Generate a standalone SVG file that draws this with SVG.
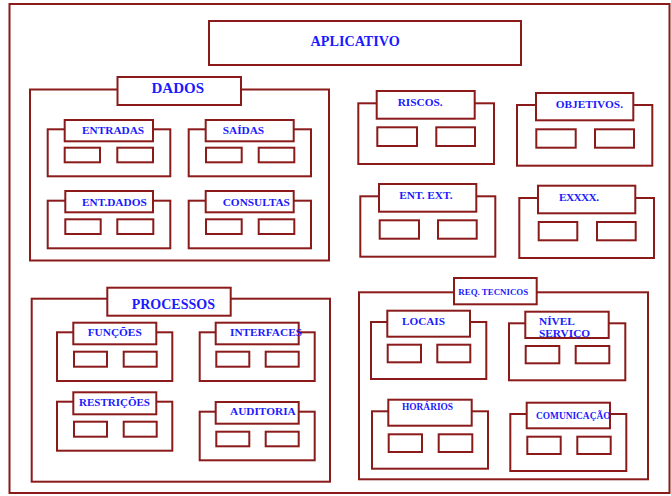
<svg xmlns="http://www.w3.org/2000/svg" width="671" height="496" viewBox="0 0 671 496">
<style>
rect{fill:#fff;stroke:#8b1a1a;stroke-width:2}
text{font-family:"Liberation Serif","Times New Roman",serif;font-weight:bold;fill:#1a1aff;font-size:11.3px}
</style>
<rect x="9.5" y="4" width="660" height="489"/>
<g id="aplicativo">
<rect x="209" y="21" width="312" height="44"/>
<text x="310.5" y="46" style="font-size:14.2px">APLICATIVO</text>
</g>
<g id="dados">
<rect x="30" y="89.5" width="299" height="171"/>
<rect x="117.5" y="77" width="123.5" height="28"/>
<text x="151.5" y="92.5" style="font-size:15px">DADOS</text>
</g>
<g id="entradas">
<rect x="47.7" y="129.3" width="122.6" height="47"/>
<rect x="64.7" y="120" width="88.3" height="21.3"/>
<text x="82" y="133.5">ENTRADAS</text>
<rect x="64.7" y="147.7" width="35.3" height="14.6"/>
<rect x="117.3" y="147.7" width="35.7" height="14.6"/>
</g>
<g id="saidas">
<rect x="188.7" y="129.3" width="122.3" height="47"/>
<rect x="205.7" y="120" width="88" height="21.3"/>
<text x="222.7" y="133.5">SAÍDAS</text>
<rect x="206" y="147.7" width="35.7" height="14.6"/>
<rect x="258.7" y="147.7" width="35.6" height="14.6"/>
</g>
<g id="entdados">
<rect x="47.7" y="200.7" width="122.6" height="47.6"/>
<rect x="65.3" y="191" width="87.7" height="21.3"/>
<text x="82" y="205.5">ENT.DADOS</text>
<rect x="65.3" y="219.3" width="35.4" height="14.7"/>
<rect x="117.3" y="219.3" width="36" height="14.7"/>
</g>
<g id="consultas">
<rect x="188.7" y="200.7" width="122.3" height="47.6"/>
<rect x="205.7" y="191" width="88" height="21.3"/>
<text x="222.7" y="205.5">CONSULTAS</text>
<rect x="206" y="219.3" width="35.7" height="14.7"/>
<rect x="258.7" y="219.3" width="35.6" height="14.7"/>
</g>
<g id="riscos">
<rect x="358.3" y="103.3" width="135.7" height="60.7"/>
<rect x="376.7" y="91" width="98" height="27.7"/>
<text x="397.7" y="106.3">RISCOS.</text>
<rect x="377.3" y="127.3" width="39.7" height="18.7"/>
<rect x="436.3" y="127.3" width="38.7" height="18.7"/>
</g>
<g id="objetivos">
<rect x="517" y="105" width="135.3" height="60.7"/>
<rect x="536" y="93" width="97.3" height="27.3"/>
<text x="555.7" y="107.5">OBJETIVOS.</text>
<rect x="536.3" y="129.3" width="39.4" height="18.4"/>
<rect x="595" y="129.3" width="39" height="18.4"/>
</g>
<g id="entext">
<rect x="360.3" y="196.3" width="135" height="60.4"/>
<rect x="379" y="184" width="97.3" height="27.7"/>
<text x="399.3" y="199.3">ENT. EXT.</text>
<rect x="379.7" y="220.3" width="39.3" height="18.4"/>
<rect x="438" y="220.3" width="38.7" height="18.4"/>
</g>
<g id="exxxx">
<rect x="519.3" y="198" width="134.7" height="60"/>
<rect x="538" y="185.7" width="97.3" height="27.6"/>
<text x="559" y="200.5" style="letter-spacing:-0.6px">EXXXX.</text>
<rect x="538.7" y="222" width="38.6" height="18.3"/>
<rect x="597" y="222" width="38.7" height="18.3"/>
</g>
<g id="processos">
<rect x="31.7" y="298.7" width="298.3" height="183"/>
<rect x="107.3" y="287.7" width="123.4" height="28"/>
<text x="131.7" y="308.5" style="font-size:14px">PROCESSOS</text>
</g>
<g id="funcoes">
<rect x="57" y="332.3" width="115.3" height="48.7"/>
<rect x="73.3" y="322.7" width="83" height="21.6"/>
<text x="87.7" y="336">FUNÇÕES</text>
<rect x="74" y="351.7" width="33" height="15"/>
<rect x="123.7" y="351.7" width="33" height="15"/>
</g>
<g id="interfaces">
<rect x="199.7" y="332.3" width="115" height="48.7"/>
<rect x="215.7" y="322.7" width="83" height="21.6"/>
<text x="230" y="336">INTERFACES</text>
<rect x="216.3" y="351.7" width="33" height="15"/>
<rect x="265.7" y="351.7" width="33" height="15"/>
</g>
<g id="restricoes">
<rect x="57" y="401.7" width="115.3" height="49"/>
<rect x="73.3" y="392.3" width="83" height="22"/>
<text x="79" y="405.8" style="font-size:11px">RESTRIÇÕES</text>
<rect x="74" y="421.7" width="33" height="15"/>
<rect x="123.7" y="421.7" width="33" height="15"/>
</g>
<g id="auditoria">
<rect x="199.7" y="411.7" width="115" height="48.6"/>
<rect x="215.7" y="402" width="83" height="21.7"/>
<text x="230" y="415.2">AUDITORIA</text>
<rect x="216.3" y="431.7" width="33" height="14.6"/>
<rect x="265.7" y="431.7" width="33" height="14.6"/>
</g>
<g id="reqtecnicos">
<rect x="359" y="292.3" width="289" height="187"/>
<rect x="454" y="278" width="82.7" height="26.3"/>
<text x="458.3" y="295.2" style="font-size:8.9px">REQ. TECNICOS</text>
</g>
<g id="locais">
<rect x="371" y="322" width="115.3" height="57"/>
<rect x="387.3" y="310.7" width="82.7" height="26"/>
<text x="402" y="324.5" style="font-size:11.2px">LOCAIS</text>
<rect x="387.7" y="344.7" width="33.3" height="17.6"/>
<rect x="437.3" y="344.7" width="33" height="17.6"/>
</g>
<g id="nivelservico">
<rect x="509" y="323.3" width="116.3" height="57"/>
<rect x="525.3" y="311.7" width="83.4" height="26.3"/>
<text x="539" y="324.5" style="font-size:11.3px">NÍVEL</text>
<text x="539" y="337" style="font-size:11.3px">SERVIÇO</text>
<rect x="525.7" y="346" width="33.6" height="17.3"/>
<rect x="575.7" y="346" width="33.6" height="17.3"/>
</g>
<g id="horarios">
<rect x="372" y="411.3" width="116" height="57.4"/>
<rect x="388.3" y="399.7" width="83.4" height="26"/>
<text x="402" y="410.3" style="font-size:9.4px">HORÁRIOS</text>
<rect x="388.7" y="434.3" width="33.3" height="17.7"/>
<rect x="438.7" y="434.3" width="33.6" height="17.7"/>
</g>
<g id="comunicacao">
<rect x="510.3" y="414" width="116" height="57"/>
<rect x="526.7" y="402.7" width="83.3" height="25.6"/>
<text x="536" y="418.8" style="font-size:9.4px">COMUNICAÇÃO</text>
<rect x="527.3" y="436.7" width="33.4" height="17.3"/>
<rect x="577.3" y="436.7" width="33.4" height="17.3"/>
</g>
<g id="connectors"/>
</svg>
